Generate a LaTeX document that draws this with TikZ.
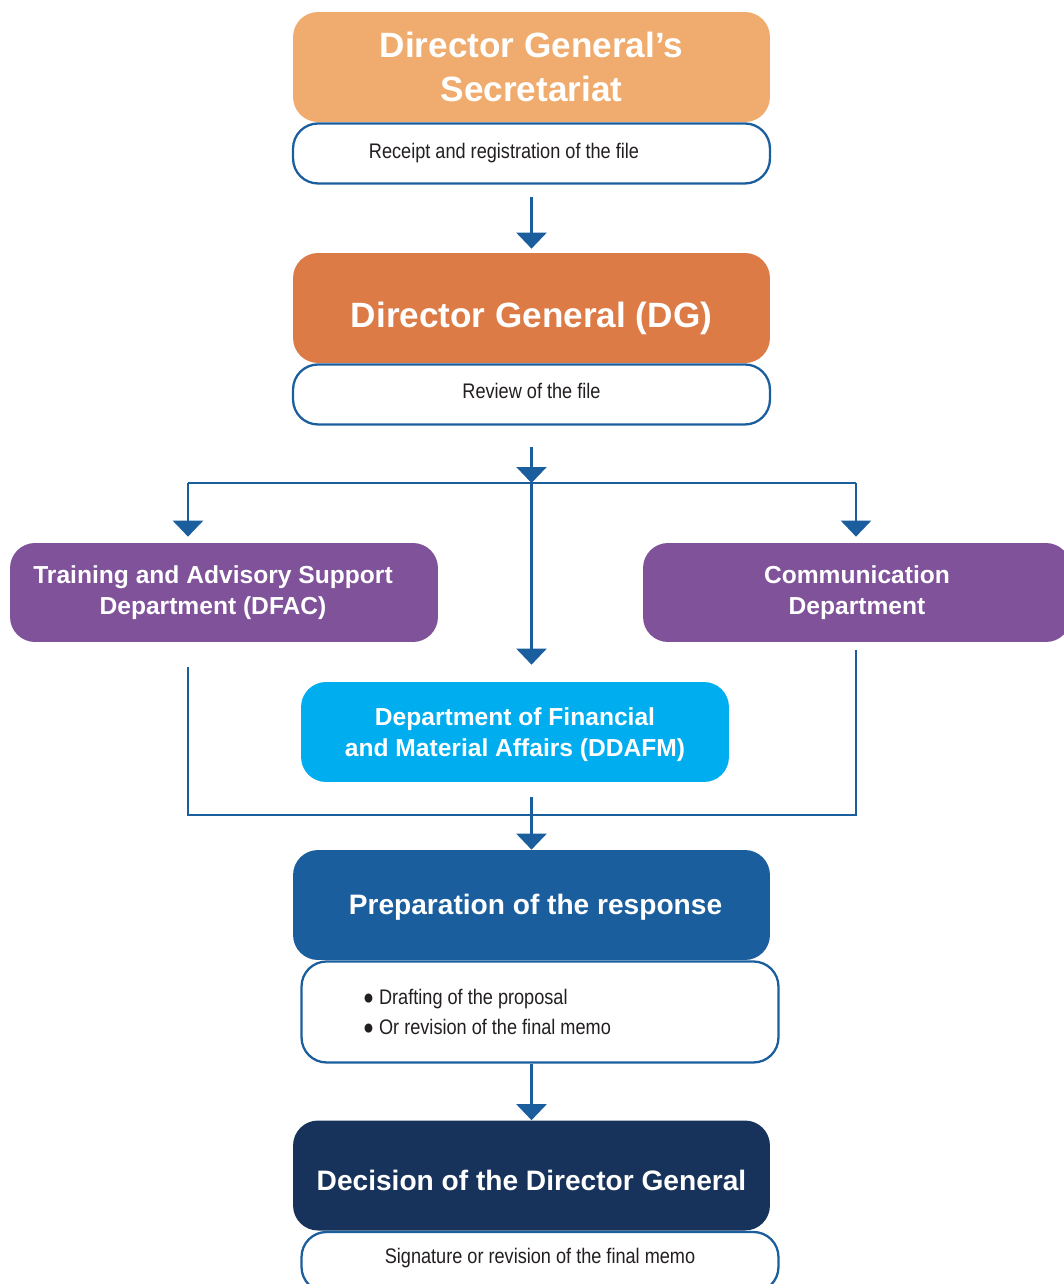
\documentclass[tikz,border=0pt]{standalone}
\usepackage{fontspec}
\setmainfont{Liberation Sans}
\newfontfamily\narrowfont[FakeStretch=0.86]{Liberation Sans}
\usepackage{tikz}
\usetikzlibrary{positioning, arrows.meta}
\usepackage{xcolor}
\definecolor{secorange}{HTML}{F0AC6E}
\definecolor{dgorange}{HTML}{DC7B45}
\definecolor{deptpurple}{HTML}{7F529A}
\definecolor{ddafmcyan}{HTML}{00AEEF}
\definecolor{prepblue}{HTML}{1B5E9E}
\definecolor{decnavy}{HTML}{18335B}
\definecolor{lineblue}{HTML}{1B5E9E}
\definecolor{darktext}{HTML}{231F20}
\newcommand{\lowered}[2]{\raisebox{#1}[\height][\depth]{#2}}
\tikzstyle{headbox} = [rectangle, rounded corners=0.5cm, minimum width=9.54cm, minimum height=2.2cm, inner sep=0pt, text=white, align=center, font=\fontsize{20}{25}\selectfont\bfseries]
\tikzstyle{notebox} = [rectangle, rounded corners=0.5cm, draw=lineblue, line width=1.3pt, fill=white, minimum width=9.54cm, minimum height=1.2cm, inner sep=0pt, text=darktext, font=\narrowfont\fontsize{12}{17}\selectfont]
\tikzstyle{deptbox} = [rectangle, rounded corners=0.5cm, minimum width=8.56cm, minimum height=1.98cm, inner sep=0pt, text=white, align=center, font=\fontsize{14}{17.6}\selectfont\bfseries]
\tikzstyle{link} = [draw=lineblue, line width=1.4pt]
\tikzstyle{arrow} = [link, -{Triangle[width=0.6cm,length=0.32cm]}]

\begin{document}
\begin{tikzpicture}[x=0.02cm, y=-0.02cm]
        \clip (0,0) rectangle (1064,1284);
        \fill[white] (0,0) rectangle (1064,1284);
        % top of the chain
        \node[headbox, fill=secorange] (sec) at (531.5,67) {Director General’s\\Secretariat};
        \node[notebox, below=0cm of sec] (sub1) {Receipt and registration of the file\hspace*{1.1cm}};
        \node[headbox, fill=dgorange] (dg) at (531.5,308) {\lowered{-0.2cm}{Director General (DG)}};
        \node[notebox, below=0cm of dg] (sub2) {\lowered{0.08cm}{Review of the file}};
        % departments
        \node[deptbox, fill=deptpurple] (dfac) at (224,592.5) {Training and Advisory Support\hspace*{0.44cm}\\Department (DFAC)\hspace*{0.44cm}};
        \node[deptbox, fill=deptpurple] (comm) at (857,592.5) {Communication\\Department};
        \node[deptbox, fill=ddafmcyan, minimum height=2cm] (ddafm) at (515,732) {\lowered{-0.06cm}{Department of Financial}\\\lowered{-0.06cm}{and Material Affairs (DDAFM)}};
        % response and decision
        \node[headbox, fill=prepblue, font=\fontsize{16}{20}\selectfont\bfseries] (prep) at (531.5,905) {\lowered{-0.04cm}{\hspace*{0.16cm}Preparation of the response}};
        \node[notebox, below=0cm of prep, xshift=0.17cm, minimum height=2.02cm, align=left] (sub3) {● Drafting of the proposal\\● Or revision of the final memo\hspace*{2.12cm}};
        \node[headbox, fill=decnavy, font=\fontsize{16}{20}\selectfont\bfseries] (dec) at (531.5,1175.5) {\lowered{-0.1cm}{Decision of the Director General}};
        \node[notebox, below=0cm of dec, xshift=0.17cm] (sub4) {\lowered{0.08cm}{Signature or revision of the final memo}};

        \coordinate (split) at (531.5,483);
        \coordinate (brl) at (188,483);
        \coordinate (brr) at (856,483);
        \coordinate (mrgl) at (188,815);
        \coordinate (mrgr) at (856,815);

        \draw[arrow, shorten <=0.24cm, shorten >=0.08cm] (sub1) -- (dg);
        \draw[arrow, shorten <=0.42cm] (sub2) -- (split);
        \draw[link] (brl) -- (brr);
        \draw[arrow, shorten >=0.12cm] (brl) -- (brl |- dfac.north);
        \draw[arrow, shorten >=0.12cm] (brr) -- (brr |- comm.north);
        \draw[arrow, shorten >=0.34cm] (split) -- (split |- ddafm.north);
        \draw[link] ([yshift=-0.5cm]brl |- dfac.south) -- (mrgl) -- (mrgr) -- ([yshift=-0.16cm]brr |- comm.south);
        \draw[arrow, shorten <=0.3cm] (split |- ddafm.south) -- (prep);
        \draw[arrow] (dec |- sub3.south) -- (dec);
    \end{tikzpicture}
\end{document}
